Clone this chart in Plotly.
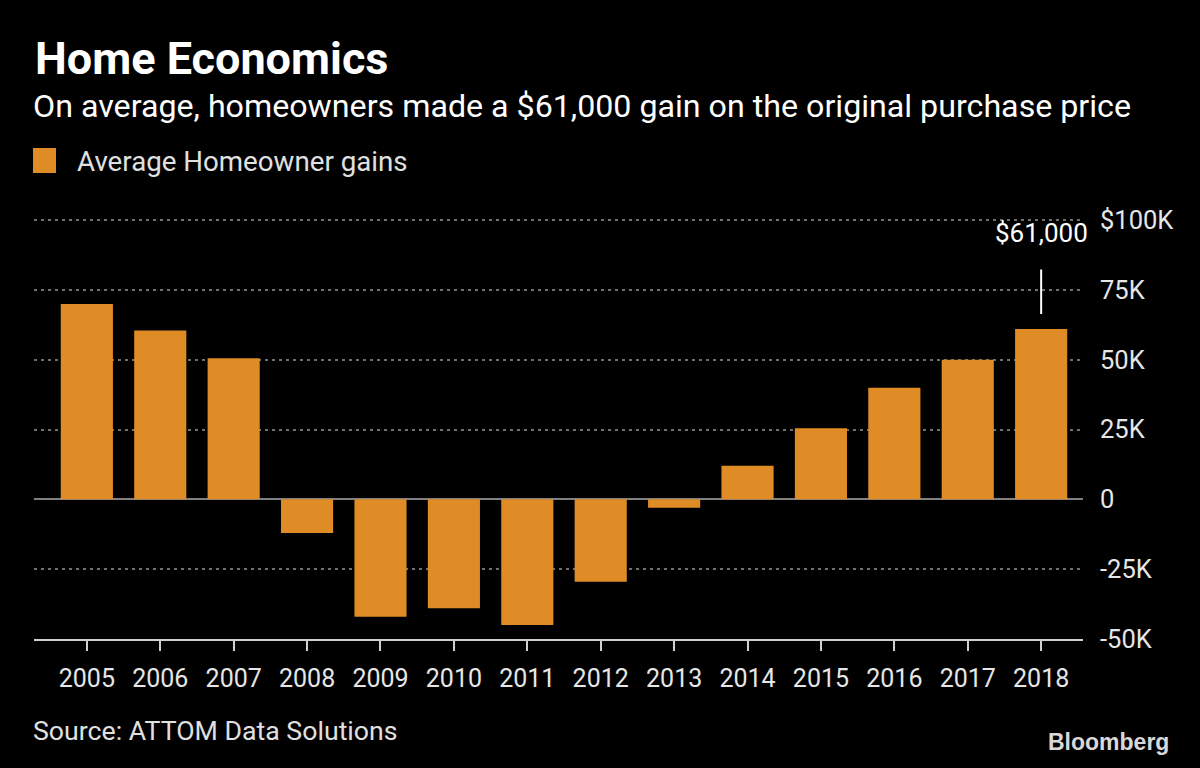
import plotly.graph_objects as go

years = ["2005", "2006", "2007", "2008", "2009", "2010", "2011",
         "2012", "2013", "2014", "2015", "2016", "2017", "2018"]
gains = [70000, 60500, 50500, -12000, -42000, -39000, -45000,
         -29500, -3000, 12000, 25500, 40000, 50000, 61000]
tick_vals = [-50000, -25000, 0, 25000, 50000, 75000, 100000]
tick_text = ["-50K", "-25K", "0", "25K", "50K", "75K", "$100K"]

FONT = "Roboto, sans-serif"
ORANGE = "#E08C26"

TOP = 218      # pixel of top of plot area
BOT = 639      # pixel of bottom (-50K)
H = BOT - TOP
W = 1083 - 34

fig = go.Figure()
fig.add_trace(go.Bar(
    x=list(range(len(years))), y=gains, marker=dict(color=ORANGE, line=dict(width=0)),
    width=0.71, name="Average Homeowner gains", showlegend=False,
))

fig.update_layout(
    width=1200, height=768,
    paper_bgcolor="black", plot_bgcolor="black",
    margin=dict(l=34, r=117, t=TOP, b=768 - BOT),
    font=dict(family=FONT, color="#e6e6e6", size=22),
    xaxis=dict(
        range=[-0.72, 13.57], tickvals=list(range(len(years))), ticktext=years,
        showgrid=False, zeroline=False, showline=True, linecolor="#d0d0d0", linewidth=2,
        ticks="outside", ticklen=10, tickwidth=2, tickcolor="#d0d0d0",
        tickfont=dict(size=25, color="#e6e6e6"), ticklabelstandoff=6,
        fixedrange=True,
    ),
    yaxis=dict(
        range=[-50000, 100750], side="right", tickvals=tick_vals, ticktext=tick_text,
        showgrid=True, gridcolor="#707070", griddash="3px,4px", gridwidth=2,
        zeroline=True, zerolinecolor="#808080", zerolinewidth=2,
        tickfont=dict(size=25.5, color="#e6e6e6"), ticklabelstandoff=16,
        showline=False, ticks="",
    ),
)

def py(pix):
    return (BOT - pix) / H

def px(pix):
    return (pix - 34) / W

fig.add_annotation(text="<b>Home Economics</b>", xref="paper", yref="paper",
                   x=px(33), y=py(58), xanchor="left", yanchor="middle",
                   showarrow=False, font=dict(size=45, color="white", family=FONT))
fig.add_annotation(text="On average, homeowners made a $61,000 gain on the original purchase price",
                   xref="paper", yref="paper", x=px(31), y=py(106),
                   xanchor="left", yanchor="middle", showarrow=False,
                   font=dict(size=32.2, color="white", family=FONT))
fig.add_shape(type="rect", xref="paper", yref="paper",
              x0=px(33), x1=px(56), y0=py(173), y1=py(148),
              fillcolor=ORANGE, line=dict(width=0))
fig.add_annotation(text="Average Homeowner gains", xref="paper", yref="paper",
                   x=px(75), y=py(161), xanchor="left", yanchor="middle",
                   showarrow=False, font=dict(size=27.7, color="#e0e0e0", family=FONT))
fig.add_annotation(text="Source: ATTOM Data Solutions", xref="paper", yref="paper",
                   x=px(31), y=py(731), xanchor="left", yanchor="middle",
                   showarrow=False, font=dict(size=26.7, color="#e0e0e0", family=FONT))
fig.add_annotation(text="<b>Bloomberg</b>", xref="paper", yref="paper",
                   x=px(1171), y=py(742), xanchor="right", yanchor="middle",
                   showarrow=False, font=dict(size=23, color="#d8d8d8", family="Liberation Sans, Arial"))

# Callout for 2018
last = len(years) - 1
fig.add_annotation(x=last, y=gains[last], yshift=15, ax=0, ay=-46,
                   text="", showarrow=True, arrowhead=0, arrowwidth=2, arrowcolor="white",
                   xref="x", yref="y")
fig.add_annotation(x=last, y=gains[last], yshift=96, text="$" + f"{gains[last]:,}",
                   showarrow=False, xanchor="center", yanchor="middle",
                   font=dict(size=26, color="white", family=FONT))

fig.write_html("out.html")
